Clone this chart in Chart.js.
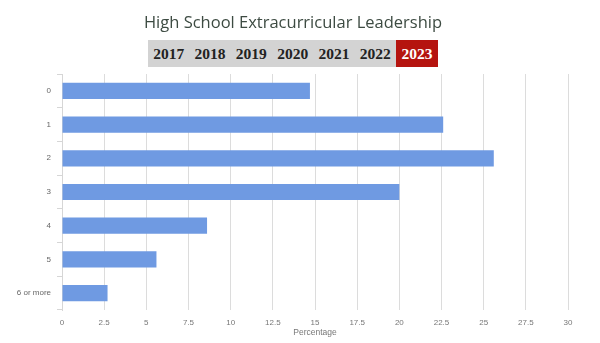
<!DOCTYPE html>
<html>
<head>
<meta charset="utf-8">
<script src="https://cdn.jsdelivr.net/npm/chart.js@4.4.1/dist/chart.umd.min.js"></script>
<style>
  body { margin: 0; background: #fff; }
  #wrap { position: relative; width: 600px; height: 343px; }
  #title {
    position: absolute; left: 0; width: 586px; top: 10px; text-align: center;
    font-family: "Open Sans", sans-serif; font-size: 16.5px; color: #3d4b42;
  }
  #years {
    position: absolute; left: 148px; top: 40px; height: 27px; width: 290px;
    background: #d3d3d3; display: flex;
    font-family: "Liberation Serif", serif; font-weight: bold; font-size: 15.5px; color: #222;
  }
  #years span { line-height: 27px; flex: 1; text-align: center; }
  #years span.on { flex: 0 0 42px; background: #b5140f; color: #fff; }
</style>
</head>
<body>
<div id="wrap">
  <canvas id="leadership" width="600" height="343"></canvas>
  <div id="title">High School Extracurricular Leadership</div>
  <div id="years"></div>
</div>
<script>
var years = ['2017', '2018', '2019', '2020', '2021', '2022', '2023'];
var activeYear = '2023';
var categories = ['0', '1', '2', '3', '4', '5', '6 or more'];
var percentages = [14.7, 22.6, 25.6, 20.0, 8.6, 5.6, 2.7];
var xTicks = [0, 2.5, 5, 7.5, 10, 12.5, 15, 17.5, 20, 22.5, 25, 27.5, 30];

var yearBox = document.getElementById('years');
years.forEach(function (y) {
    var s = document.createElement('span');
    s.textContent = y;
    if (y === activeYear) s.className = 'on';
    yearBox.appendChild(s);
});

var ctx = document.getElementById('leadership').getContext('2d');
window.leaderBar = new Chart(ctx, {
    type: 'bar',
    data: {
        labels: categories,
        datasets: [{
            label: 'Percentage',
            backgroundColor: '#6f9ae2',
            borderWidth: 0,
            data: percentages,
            categoryPercentage: 1,
            barPercentage: 0.48
        }]
    },
    options: {
        indexAxis: 'y',
        responsive: false,
        animation: false,
        layout: { padding: { top: 74, right: 32, left: 0, bottom: 0 } },
        plugins: { legend: { display: false }, tooltip: { enabled: false } },
        scales: {
            y: {
                grid: { drawOnChartArea: false, offset: true, tickLength: 5, color: '#d6d6d6' },
                border: { color: '#d6d6d6' },
                ticks: { color: '#666', font: { family: 'Liberation Sans', size: 8 }, padding: 6 },
                afterFit: function (scale) { scale.width = 62; }
            },
            x: {
                min: 0,
                max: 30,
                afterBuildTicks: function (scale) {
                    scale.ticks = xTicks.map(function (v) { return { value: v }; });
                },
                grid: { color: '#dcdcdc', drawTicks: false },
                border: { display: false },
                ticks: { color: '#777', font: { family: 'Liberation Sans', size: 8 }, padding: 8 },
                title: {
                    display: true, text: 'Percentage', color: '#777',
                    font: { family: 'Liberation Sans', size: 8.5 }, padding: { top: 0, bottom: 5 }
                },
                afterFit: function (scale) { scale.height = 33; }
            }
        }
    }
});
</script>
</body>
</html>
